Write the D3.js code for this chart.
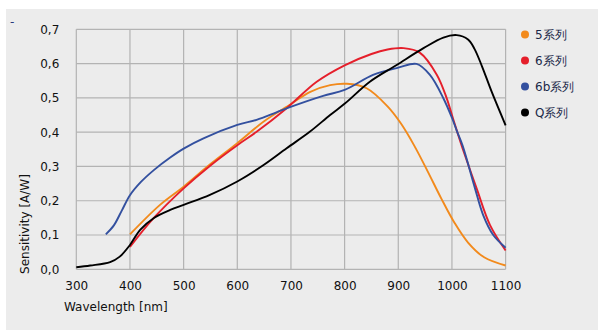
<!DOCTYPE html>
<html><head><meta charset="utf-8">
<script src="https://cdn.jsdelivr.net/npm/d3@7/dist/d3.min.js"></script>
<style>html,body{margin:0;padding:0;background:#fff;}svg{display:block;}</style>
</head><body>
<svg id="chart" width="606" height="335"></svg>
<script>
// ---- data ----
const xTicks = [300,400,500,600,700,800,900,1000,1100];
const yTicks = [0,0.1,0.2,0.3,0.4,0.5,0.6,0.7];
const seriesNames = ["5系列","6系列","6b系列","Q系列"];
const seriesColors = ["#f28a1c","#e51f2b","#33509f","#000000"];

const s5_x = [400,456,500,550,600,650,700,735,773,804,841,880,905,930,955,980,1005,1030,1060,1100];
const s5_y = [0.102,0.188,0.241,0.307,0.368,0.432,0.482,0.517,0.537,0.541,0.528,0.475,0.425,0.360,0.285,0.207,0.135,0.078,0.035,0.011];

const s6_x = [400,444,500,550,600,636,692,748,800,850,880,910,940,972,990,1000,1010,1020,1046,1071,1100];
const s6_y = [0.065,0.149,0.236,0.303,0.362,0.401,0.470,0.547,0.595,0.628,0.641,0.645,0.632,0.567,0.500,0.450,0.400,0.352,0.236,0.129,0.055];

const s6b_x = [355,370,385,400,420,445,475,500,537,600,636,673,698,760,800,853,900,934,959,984,1000,1010,1020,1043,1058,1077,1100];
const s6b_y = [0.102,0.128,0.172,0.216,0.254,0.290,0.326,0.352,0.382,0.421,0.436,0.458,0.473,0.506,0.523,0.567,0.588,0.599,0.567,0.499,0.442,0.400,0.360,0.236,0.159,0.100,0.063];

const sQ_x = [300,326,363,381,400,419,444,475,500,549,600,649,692,735,773,801,847,897,947,984,1009,1030,1042,1056,1074,1100];
const sQ_y = [0.006,0.011,0.021,0.037,0.071,0.115,0.149,0.173,0.188,0.217,0.256,0.304,0.353,0.401,0.450,0.484,0.547,0.596,0.645,0.676,0.683,0.670,0.643,0.592,0.518,0.420];

const seriesX = [s5_x, s6_x, s6b_x, sQ_x];
const seriesY = [s5_y, s6_y, s6b_y, sQ_y];

// ---- layout ----
const svg = d3.select("#chart");
svg.append("rect").attr("x",6).attr("y",9).attr("width",592).attr("height",321).attr("fill","#ececec");

const x = d3.scaleLinear().domain([300,1100]).range([76.3,505.6]);
const y = d3.scaleLinear().domain([0,0.7]).range([269.3,29.3]);

const loc = d3.formatLocale({decimal:",",thousands:".",grouping:[3],currency:["",""]});
const fy = loc.format(".1f");

const font = "'DejaVu Sans', Verdana, sans-serif";
const gridColor = "#b3b3b3";

// grid
const g = svg.append("g");
g.selectAll("line.v").data(xTicks).join("line")
  .attr("x1",d=>x(d)).attr("x2",d=>x(d)).attr("y1",y(0.7)).attr("y2",y(0))
  .attr("stroke",gridColor).attr("stroke-width",1.2);
g.selectAll("line.h").data(yTicks).join("line")
  .attr("y1",d=>y(d)).attr("y2",d=>y(d)).attr("x1",x(300)).attr("x2",x(1100))
  .attr("stroke",gridColor).attr("stroke-width",1.2);

// axes (labels only)
const xa = svg.append("g").attr("transform",`translate(0,${y(0)})`)
  .call(d3.axisBottom(x).tickValues(xTicks).tickSize(0).tickPadding(12).tickFormat(d3.format("d")));
xa.select(".domain").remove();
xa.selectAll("text").attr("font-family",font).attr("font-size",12).attr("fill","#111");

const ya = svg.append("g").attr("transform",`translate(${x(300)},0)`)
  .call(d3.axisLeft(y).tickValues(yTicks).tickSize(0).tickPadding(17).tickFormat(fy));
ya.select(".domain").remove();
ya.selectAll("text").attr("font-family",font).attr("font-size",12).attr("fill","#111");

// axis titles
svg.append("text").attr("x",64).attr("y",311).attr("font-family",font).attr("font-size",12)
  .attr("fill","#111").text("Wavelength [nm]");
svg.append("text").attr("transform","translate(28.5,224) rotate(-90)").attr("text-anchor","middle")
  .attr("font-family",font).attr("font-size",12).attr("fill","#111").text("Sensitivity [A/W]");
svg.append("text").attr("x",10).attr("y",26).attr("font-family",font).attr("font-size",12)
  .attr("fill","#2a3a7a").text("-");

// lines
const line = d3.line().x(d=>x(d[0])).y(d=>y(d[1])).curve(d3.curveCatmullRom.alpha(0.5));
seriesX.forEach((xs,i)=>{
  const pts = xs.map((v,j)=>[v, seriesY[i][j]]);
  svg.append("path").datum(pts).attr("d",line).attr("fill","none")
    .attr("stroke",seriesColors[i]).attr("stroke-width",1.9).attr("stroke-linejoin","round");
});

// legend
const lg = svg.append("g");
seriesNames.forEach((n,i)=>{
  const cy = 34.5 + i*26;
  lg.append("circle").attr("cx",525).attr("cy",cy).attr("r",4).attr("fill",seriesColors[i]);
  lg.append("text").attr("x",535).attr("y",cy).attr("dy","0.36em").attr("font-family",font)
    .attr("font-size",12).attr("fill","#1b2848").text(n);
});
</script>
</body></html>
